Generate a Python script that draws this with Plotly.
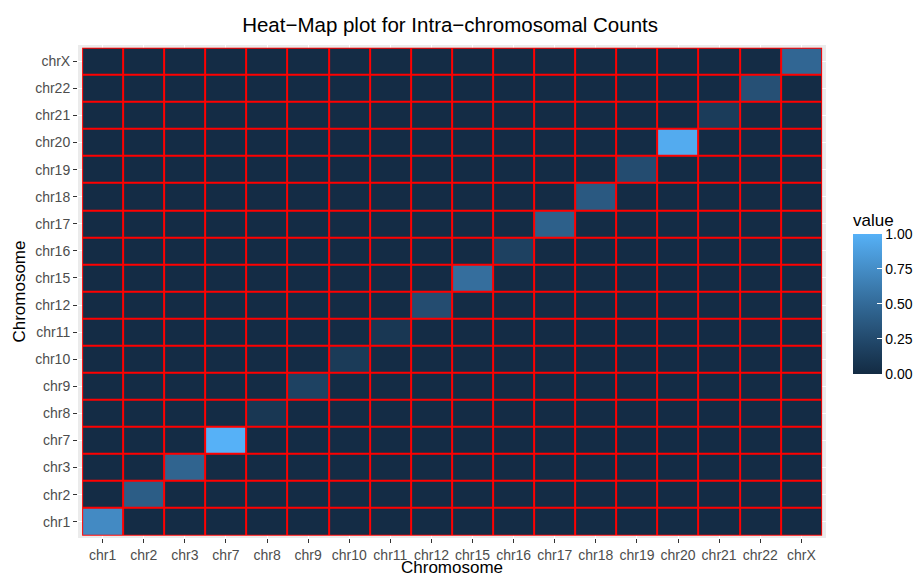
import plotly.graph_objects as go

chromosomes = ["chr1", "chr2", "chr3", "chr7", "chr8", "chr9", "chr10", "chr11", "chr12",
               "chr15", "chr16", "chr17", "chr18", "chr19", "chr20", "chr21", "chr22", "chrX"]
diag_values = [0.73, 0.40, 0.45, 1.00, 0.10, 0.19, 0.13, 0.10, 0.27,
               0.53, 0.18, 0.42, 0.37, 0.27, 0.96, 0.14, 0.30, 0.47]
off_diag_value = 0.01
legend_ticks = [0.0, 0.25, 0.5, 0.75, 1.0]
legend_labels = ["0.00", "0.25", "0.50", "0.75", "1.00"]

n = len(chromosomes)
z = [[diag_values[i] if i == j else off_diag_value for j in range(n)] for i in range(n)]


# ggplot2 default continuous gradient: #132B43 -> #56B1F7 interpolated in Lab
def _hex_to_rgb(h):
    h = h.lstrip("#")
    return [int(h[i:i + 2], 16) / 255 for i in (0, 2, 4)]


def _lin(c):
    return c / 12.92 if c <= 0.04045 else ((c + 0.055) / 1.055) ** 2.4


def _delin(c):
    c = max(0.0, min(1.0, c))
    return 12.92 * c if c <= 0.0031308 else 1.055 * c ** (1 / 2.4) - 0.055


_WP = (0.95047, 1.0, 1.08883)


def _rgb_to_lab(rgb):
    r, g, b = [_lin(c) for c in rgb]
    x = 0.4124 * r + 0.3576 * g + 0.1805 * b
    y = 0.2126 * r + 0.7152 * g + 0.0722 * b
    zz = 0.0193 * r + 0.1192 * g + 0.9505 * b

    def f(t):
        return t ** (1 / 3) if t > 0.008856 else 7.787 * t + 16 / 116
    fx, fy, fz = f(x / _WP[0]), f(y / _WP[1]), f(zz / _WP[2])
    return (116 * fy - 16, 500 * (fx - fy), 200 * (fy - fz))


def _lab_to_hex(lab):
    L, a, b = lab
    fy = (L + 16) / 116
    fx = fy + a / 500
    fz = fy - b / 200

    def fi(t):
        return t ** 3 if t ** 3 > 0.008856 else (t - 16 / 116) / 7.787
    x, y, zz = fi(fx) * _WP[0], fi(fy) * _WP[1], fi(fz) * _WP[2]
    r = 3.2406 * x - 1.5372 * y - 0.4986 * zz
    g = -0.9689 * x + 1.8758 * y + 0.0415 * zz
    bb = 0.0557 * x - 0.2040 * y + 1.0570 * zz
    return "#" + "".join("%02X" % round(_delin(c) * 255) for c in (r, g, bb))


low_lab = _rgb_to_lab(_hex_to_rgb("#132B43"))
high_lab = _rgb_to_lab(_hex_to_rgb("#56B1F7"))
colorscale = []
for k in range(11):
    t = k / 10
    lab = tuple(lo + (hi - lo) * t for lo, hi in zip(low_lab, high_lab))
    colorscale.append([t, _lab_to_hex(lab)])

fig = go.Figure()
# red layer underneath: shows through the gaps as tile outlines
fig.add_trace(go.Heatmap(
    x=chromosomes, y=chromosomes, z=[[1] * n for _ in range(n)],
    colorscale=[[0, "#FF0000"], [1, "#FF0000"]], showscale=False, hoverinfo="skip",
))
fig.add_trace(go.Heatmap(
    x=chromosomes, y=chromosomes, z=z,
    colorscale=colorscale, zmin=0, zmax=1, xgap=2, ygap=2,
    colorbar=dict(
        title=dict(text="value", side="top", font=dict(size=17, color="#000000")),
        x=1.0347, xanchor="left", y=0.499, yanchor="middle",
        len=164, lenmode="pixels", thickness=29, thicknessmode="pixels",
        outlinewidth=0, tickvals=legend_ticks, ticktext=legend_labels,
        ticks="inside", tickcolor="white", ticklen=5, tickwidth=1,
        tickfont=dict(size=14, color="#000000"), xpad=0, ypad=0,
    ),
))

axis_common = dict(
    type="category", showgrid=True, gridcolor="#FFFFFF", gridwidth=1.4,
    ticks="outside", ticklen=4, tickcolor="#333333", tickwidth=1.2,
    tickfont=dict(size=14, color="#4D4D4D"), zeroline=False, showline=False,
    range=[-0.6, n - 0.4], automargin=False,
)

fig.update_layout(
    width=921, height=580,
    margin=dict(l=70, r=102, t=37, b=50),
    paper_bgcolor="#FFFFFF", plot_bgcolor="#EBEBEB",
    font=dict(family="Liberation Sans, Arial, sans-serif"),
    title=dict(text="Heat\u2212Map plot for Intra\u2212chromosomal Counts",
               x=0.48, xanchor="center", y=1 - 17 / 580, yanchor="middle",
               font=dict(size=20.5, color="#000000")),
    xaxis=dict(axis_common),
    yaxis=dict(axis_common),
    annotations=[
        dict(text="Chromosome", xref="paper", yref="paper", x=0.5, y=-0.0598,
             xanchor="center", yanchor="middle", showarrow=False,
             font=dict(size=17, color="#000000")),
        dict(text="Chromosome", xref="paper", yref="paper", x=-0.0788, y=0.5,
             xanchor="center", yanchor="middle", textangle=-90, showarrow=False,
             font=dict(size=17, color="#000000")),
    ],
)

fig.write_html("out.html")
